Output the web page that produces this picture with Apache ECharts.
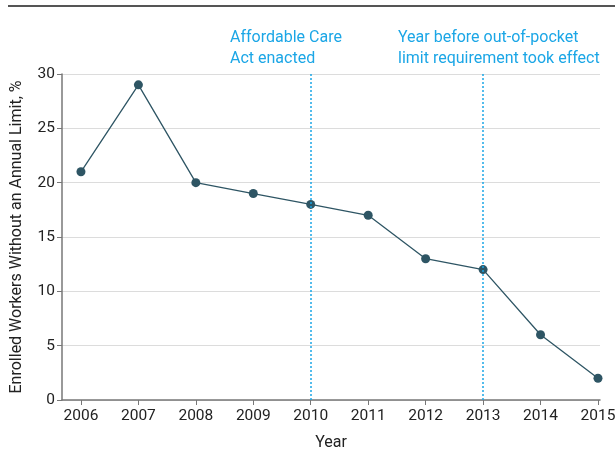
<!DOCTYPE html>
<html><head><meta charset="utf-8">
<script src="https://cdn.jsdelivr.net/npm/echarts@6/dist/echarts.min.js"></script>
<style>html,body{margin:0;padding:0;background:#fff}#c{width:615px;height:450px}</style>
</head><body><div id="c"></div>
<script>
const years = [2006, 2007, 2008, 2009, 2010, 2011, 2012, 2013, 2014, 2015];
const pctWithoutLimit = [21, 29, 20, 19, 18, 17, 13, 12, 6, 2];
const eventYears = [2010, 2013];
const eventLabels = ['Affordable Care\nAct enacted', 'Year before out-of-pocket\nlimit requirement took effect'];

const FONT = 'Roboto, "Noto Sans", sans-serif';
const BLUE = '#1BA6E6';
const LINE = '#2E5564';
const chart = echarts.init(document.getElementById('c'));
chart.setOption({
  animation: false,
  textStyle: {fontFamily: FONT},
  grid: {left: 62, right: 15, top: 74, bottom: 50, outerBoundsMode: 'none', containLabel: false},
  xAxis: {
    type: 'value', min: 2005.67, max: 2015.035,
    name: 'Year', nameLocation: 'middle', nameGap: 35,
    nameTextStyle: {fontFamily: FONT, fontSize: 16, color: '#222'},
    axisLine: {lineStyle: {color: '#777', width: 1.5}},
    axisTick: {show: true, length: 5, lineStyle: {color: '#777'}, customValues: years},
    axisLabel: {fontFamily: FONT, fontSize: 15.5, color: '#222', margin: 8, customValues: years, formatter: v => String(v)},
    splitLine: {show: false}
  },
  yAxis: {
    type: 'value', min: 0, max: 30, interval: 5,
    name: 'Enrolled Workers Without an Annual Limit, %', nameLocation: 'middle', nameGap: 37,
    nameTextStyle: {fontFamily: FONT, fontSize: 16, color: '#222'},
    axisLine: {show: true, lineStyle: {color: '#777', width: 1.5}},
    axisTick: {show: true, length: 5, lineStyle: {color: '#777'}},
    axisLabel: {fontFamily: FONT, fontSize: 15.5, color: '#222', margin: 7},
    splitLine: {lineStyle: {color: '#dcdcdc', width: 1}}
  },
  series: [{
    type: 'line',
    data: years.map((y, i) => [y, pctWithoutLimit[i]]),
    symbol: 'circle', symbolSize: 9,
    lineStyle: {color: LINE, width: 1.3},
    itemStyle: {color: LINE},
    markLine: {
      silent: true, symbol: 'none',
      lineStyle: {color: BLUE, type: [2, 2], width: 1.5},
      label: {show: false},
      data: eventYears.map(x => ({xAxis: x}))
    }
  }],
  graphic: [
    {type: 'rect', shape: {x: 8, y: 5, width: 607, height: 2}, style: {fill: '#555'}},
    {type: 'text', left: 230, top: 27, style: {text: eventLabels[0], fill: BLUE, font: '16px ' + FONT, lineHeight: 21}},
    {type: 'text', left: 398, top: 27, style: {text: eventLabels[1], fill: BLUE, font: '16px ' + FONT, lineHeight: 21}}
  ]
});
</script></body></html>
